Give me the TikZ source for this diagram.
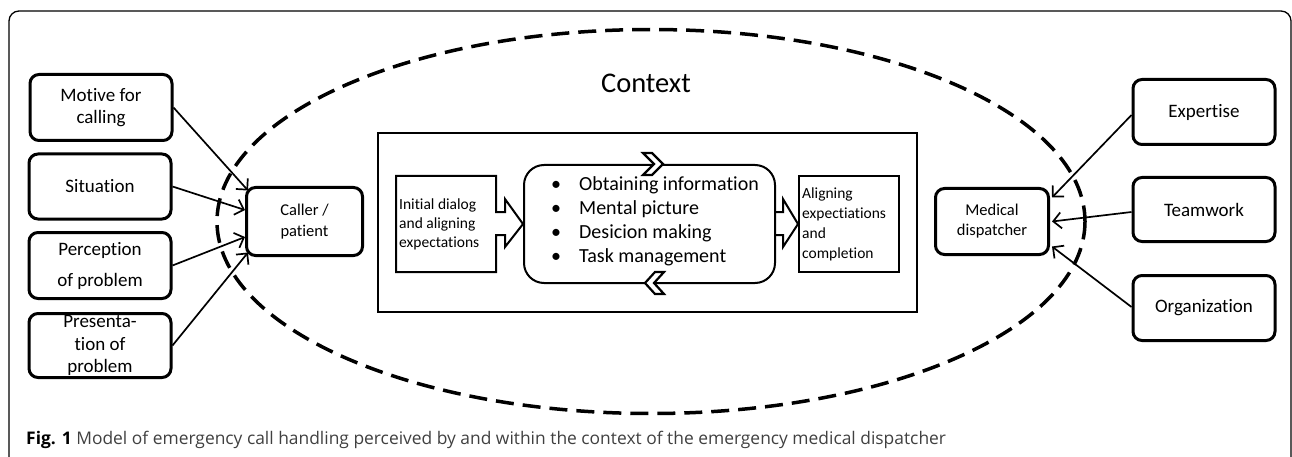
\documentclass[tikz,border=0pt]{standalone}
\usepackage{fontspec}
\setmainfont{Carlito}[Ligatures={NoCommon,NoDiscretionary,NoContextual}]
\newfontfamily\capfont{Open Sans}
\usetikzlibrary{arrows.meta,calc}
\definecolor{capgray}{gray}{0.25}
\begin{document}
\begin{tikzpicture}[x=1pt,y=-1pt,
  sidebox/.style={draw, line width=3pt, rounded corners=9pt, minimum width=142pt, minimum height=65pt, align=center, inner sep=0pt, font=\fontsize{19}{22.5}\selectfont},
  actorbox/.style={draw, line width=3pt, rounded corners=9pt, align=center, inner sep=0pt, font=\fontsize{16.5}{21}\selectfont},
  arr/.style={line width=1.7pt, -{Straight Barb[length=8pt,width=16pt,line width=1.7pt]}},
  thinline/.style={line width=2pt},
  chev/.style={line width=2.2pt, fill=white, line join=miter},
  ctx/.style={dash pattern=on 18pt off 9pt, line width=3.5pt}
]
\useasboundingbox (0,0) rectangle (1292,457);
% outer frame
\draw[line width=1.3pt, rounded corners=10pt] (9,470) -- (9,11) -- (1291,11) -- (1291,470);

% context ellipse
\draw[ctx] (651,221.5) ellipse [x radius=434, y radius=192];
\node (context) at (646,83) {\fontsize{28.5}{32}\selectfont Context};

% left boxes
\node[sidebox, minimum height=66pt] (motive) at (101,107.5) {Motive for\\calling};
\node[sidebox] (situation) at (100,186.5) {Situation};
\node[sidebox, minimum height=66pt, font=\fontsize{19}{31}\selectfont] (perception) at (100,265.5) {Perception\\of problem};
\node[sidebox, minimum height=64pt] (presentation) at (100,345.5) {Presenta-\\tion of\\problem};

\node[actorbox, minimum width=116pt, minimum height=68pt] (caller) at (304.5,221.5) {Caller /\\patient};

% right boxes
\node[sidebox] (expertise) at (1204,112) {Expertise};
\node[sidebox, minimum height=64pt] (teamwork) at (1204,209.5) {Teamwork};
\node[sidebox] (organization) at (1204,308) {Organization};

\node[actorbox, minimum width=113pt, minimum height=66pt, font=\fontsize{16.5}{20}\selectfont] (dispatcher) at (992,221.5) {Medical\\dispatcher};

% connectors
\draw[arr] (motive.east) -- ([xshift=3pt,yshift=31pt]caller.west);
\draw[arr] (situation.east) -- ([yshift=11.5pt]caller.west);
\draw[arr] (perception.east) -- ([yshift=-15.5pt]caller.west);
\draw[arr] (presentation.east) -- ([xshift=3pt,yshift=-31pt]caller.west);

\draw[arr] ([yshift=-3pt]expertise.west) -- ([xshift=2pt,yshift=24pt]dispatcher.east);
\draw[arr] ([yshift=-2.5pt]teamwork.west) -- ([xshift=2pt]dispatcher.east);
\draw[arr] ([yshift=1pt]organization.west) -- ([xshift=2pt,yshift=-25pt]dispatcher.east);

% central process frame
\draw[thinline] (378,133) rectangle (917,312);

% initial dialog block arrow
\draw[thinline, line join=miter] (396,176) -- (496,176) -- (496,212) -- (505,212) -- (505,199) -- (523,224)
  -- (505,247) -- (505,235) -- (496,235) -- (496,272) -- (396,272) -- cycle;
\node[anchor=west, align=left, inner sep=0pt, font=\fontsize{15.5}{19}\selectfont] (initial) at (399,224) {Initial dialog\\and aligning\\expectations};

% central rounded box
\draw[thinline, rounded corners=20pt] (524,165) rectangle (775,283);
\node[anchor=west, align=left, inner sep=0pt, font=\fontsize{20}{24}\selectfont] (tasks) at (551,221) {%
\makebox[28pt][l]{\textbullet}Obtaining information\\
\makebox[28pt][l]{\textbullet}Mental picture\\
\makebox[28pt][l]{\textbullet}Desicion making\\
\makebox[28pt][l]{\textbullet}Task management};
\draw[chev] (643,153) -- (652,153) -- (663,164) -- (652,175) -- (643,175) -- (654,164) -- cycle;
\draw[chev] (664,272) -- (655,272) -- (645,283) -- (655,294) -- (664,294) -- (654,283) -- cycle;

% right block arrow
\draw[thinline, line join=miter] (775,212) -- (783,212) -- (783,199) -- (798,224) -- (783,247) -- (783,235) -- (775,235);

% aligning box
\draw[thinline] (799,176) rectangle (899,272);
\node[anchor=west, align=left, inner sep=0pt, font=\fontsize{15.5}{20}\selectfont] (aligning) at (802,224) {Aligning\\expectiations\\and\\completion};

% caption
\node[anchor=west, inner sep=0pt, font=\capfont\fontsize{17.4}{20}\selectfont] (caption) at (26,440) {\textbf{Fig. 1} \textcolor{capgray}{Model of emergency call handling perceived by and within the context of the emergency medical dispatcher}};
\end{tikzpicture}
\end{document}
